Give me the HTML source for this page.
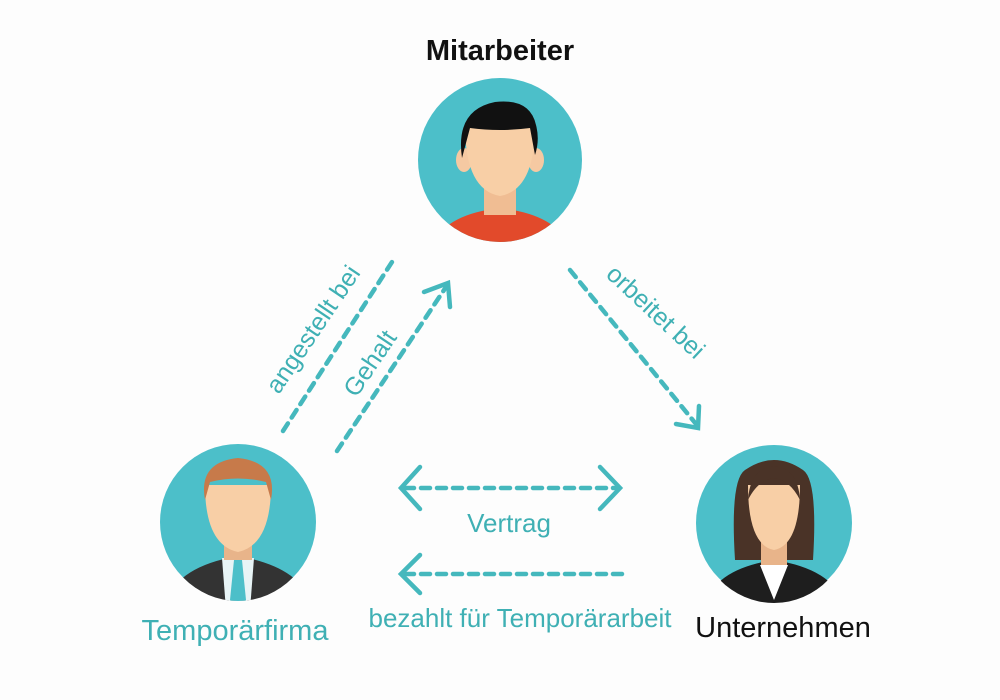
<!DOCTYPE html>
<html><head><meta charset="utf-8"><style>
html,body{margin:0;padding:0;background:#fdfdfd;}
svg{display:block}
text{font-family:"Liberation Sans","DejaVu Sans",sans-serif}
</style></head><body>
<svg width="1000" height="700" viewBox="0 0 1000 700" xmlns="http://www.w3.org/2000/svg">
<defs>
<clipPath id="c1"><circle cx="500" cy="160" r="82"/></clipPath>
<clipPath id="c2"><ellipse cx="238" cy="522" rx="77" ry="79"/></clipPath>
<clipPath id="c3"><ellipse cx="774" cy="523" rx="77" ry="80"/></clipPath>
</defs>
<rect width="1000" height="700" fill="#fdfdfd"/>

<!-- Mitarbeiter -->
<text x="500" y="60" font-size="29" font-weight="bold" text-anchor="middle" fill="#111">Mitarbeiter</text>
<circle cx="500" cy="160" r="82" fill="#4cbfc9"/>
<g clip-path="url(#c1)">
  <path d="M432 250 Q440 215 500 208 Q560 215 570 250 Z" fill="#e24a2b"/>
  <rect x="484" y="175" width="32" height="40" fill="#f0bd93"/>
  <ellipse cx="464" cy="160" rx="8" ry="12" fill="#f5c9a2"/>
  <ellipse cx="536" cy="160" rx="8" ry="12" fill="#f5c9a2"/>
  <path d="M465 125 Q465 190 500 196 Q535 190 535 125 Z" fill="#f8cfa6"/>
  <path d="M462 158 Q455 110 495 102 Q530 98 536 125 Q540 140 535 155 L530 128 Q500 132 470 128 Z" fill="#111"/>
</g>

<!-- Temporärfirma -->
<circle cx="238" cy="522" r="78" fill="#4cbfc9"/>
<g clip-path="url(#c2)">
  <path d="M165 610 Q170 568 238 556 Q306 568 312 610 Z" fill="#333"/>
  <path d="M222 558 L254 558 L250 610 L226 610 Z" fill="#e8f4f6"/>
  <path d="M234 560 L242 560 L246 600 L238 610 L230 600 Z" fill="#4cbfc9"/>
  <rect x="224" y="530" width="28" height="30" fill="#e8b48a"/>
  <path d="M205 485 Q205 545 238 552 Q271 545 271 485 Z" fill="#f8cfa6"/>
  <path d="M205 500 Q198 462 238 458 Q278 462 271 500 L266 482 Q238 475 210 482 Z" fill="#c77a4a"/>
</g>

<!-- Unternehmen -->
<circle cx="774" cy="523" r="78" fill="#4cbfc9"/>
<g clip-path="url(#c3)">
  <path d="M735 560 Q730 480 745 470 Q774 450 803 470 Q818 480 813 560 Z" fill="#4a3327"/>
  <path d="M705 610 Q710 570 774 560 Q838 570 845 610 Z" fill="#1e1e1e"/>
  <path d="M760 565 L788 565 L774 600 Z" fill="#fff"/>
  <rect x="761" y="530" width="26" height="35" fill="#e8b48a"/>
  <path d="M748 485 Q748 545 774 550 Q800 545 800 485 Z" fill="#f8cfa6"/>
  <path d="M748 500 Q750 468 774 466 Q798 468 800 500 Q790 480 774 478 Q758 480 748 500 Z" fill="#4a3327"/>
</g>

<g stroke="#45b8bd" stroke-width="4.5" stroke-linecap="round" fill="none">
  <line x1="283" y1="431" x2="392" y2="262" stroke-dasharray="9 7"/>
  <line x1="337" y1="451" x2="446" y2="287" stroke-dasharray="9 7"/>
  <polyline points="424,292 448,283 450,307"/>
  <line x1="570" y1="270" x2="696" y2="424" stroke-dasharray="9 7"/>
  <polyline points="676,424 698,428 699,406"/>
  <line x1="405" y1="488" x2="618" y2="488" stroke-dasharray="9 7"/>
  <polyline points="420,467 401,488 420,509"/>
  <polyline points="600,467 620,488 600,509"/>
  <line x1="405" y1="574" x2="624" y2="574" stroke-dasharray="9 7"/>
  <polyline points="420,555 401,574 420,593"/>
</g>

<g fill="#3fb0b4">
  <text x="0" y="0" font-size="25" text-anchor="middle" transform="translate(320,334) rotate(-56)">angestellt bei</text>
  <text x="0" y="0" font-size="25" text-anchor="middle" transform="translate(377,368) rotate(-56)">Gehalt</text>
  <text x="0" y="0" font-size="25" text-anchor="middle" transform="translate(650,318) rotate(43)">orbeitet bei</text>
  <text x="509" y="532" font-size="26" text-anchor="middle">Vertrag</text>
  <text x="520" y="627" font-size="26" text-anchor="middle">bezahlt für Temporärarbeit</text>
  <text x="235" y="640" font-size="29" text-anchor="middle">Temporärfirma</text>
</g>
<text x="783" y="637" font-size="29" text-anchor="middle" fill="#111">Unternehmen</text>
</svg>
</body></html>
